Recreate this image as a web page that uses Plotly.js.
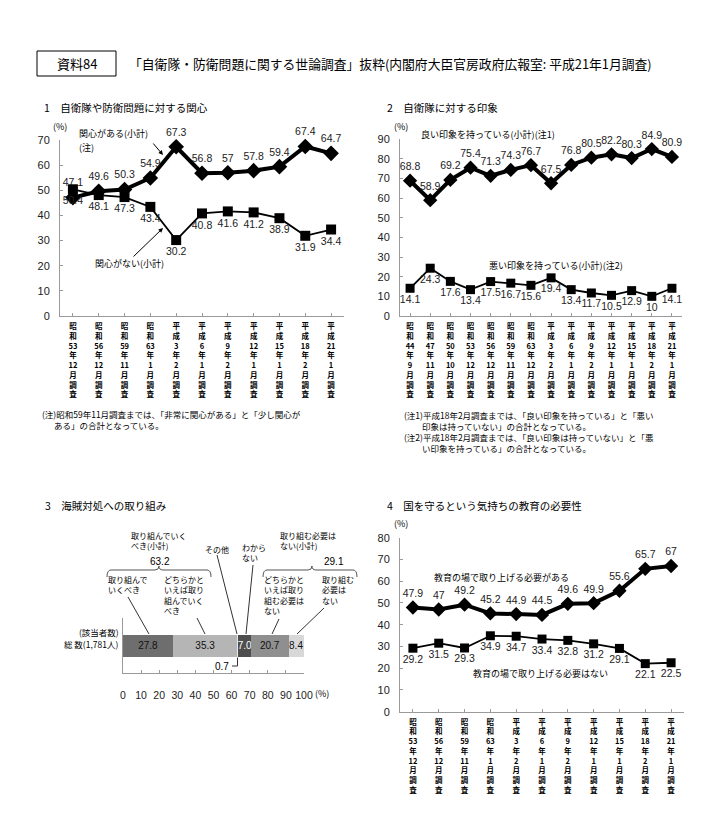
<!DOCTYPE html>
<html><head><meta charset="utf-8">
<script src="https://cdn.plot.ly/plotly-3.0.1.min.js"></script>
<style>html,body{margin:0;padding:0;background:#fff}</style>
</head><body><div id="chart" style="width:720px;height:838px"></div>
<script>
// ---------- data ----------
const surveys1 = ['昭和53年12月調査','昭和56年12月調査','昭和59年11月調査','昭和63年1月調査','平成3年2月調査','平成6年1月調査','平成9年2月調査','平成12年1月調査','平成15年1月調査','平成18年2月調査','平成21年1月調査'];
const interestYes = [47.1,49.6,50.3,54.9,67.3,56.8,57,57.8,59.4,67.4,64.7];
const interestNo  = [50.4,48.1,47.3,43.4,30.2,40.8,41.6,41.2,38.9,31.9,34.4];

const surveys2 = ['昭和44年9月調査','昭和47年11月調査','昭和50年10月調査','昭和53年12月調査','昭和56年12月調査','昭和59年11月調査','昭和63年12月調査','平成3年2月調査','平成6年1月調査','平成9年2月調査','平成12年1月調査','平成15年1月調査','平成18年2月調査','平成21年1月調査'];
const goodImpression = [68.8,58.9,69.2,75.4,71.3,74.3,76.7,67.5,76.8,80.5,82.2,80.3,84.9,80.9];
const badImpression  = [14.1,24.3,17.6,13.4,17.5,16.7,15.6,19.4,13.4,11.7,10.5,12.9,10,14.1];

const piracyNames  = ['取り組んでいくべき','どちらかといえば取り組んでいくべき','その他','わからない','どちらかといえば取り組む必要はない','取り組む必要はない'];
const piracyValues = [27.8,35.3,0.7,7.0,20.7,8.4];
const piracyCategory = ['総 数(1,781人)'];
const piracySubtotals = ['63.2','29.1'];

const surveys4 = ['昭和53年12月調査','昭和56年12月調査','昭和59年11月調査','昭和63年1月調査','平成3年2月調査','平成6年1月調査','平成9年2月調査','平成12年1月調査','平成15年1月調査','平成18年2月調査','平成21年1月調査'];
const educationYes = [47.9,47,49.2,45.2,44.9,44.5,49.6,49.9,55.6,65.7,67];
const educationNo  = [29.2,31.5,29.3,34.9,34.7,33.4,32.8,31.2,29.1,22.1,22.5];

// ---------- helpers ----------
const W = 720, H = 838;
const px = x => x / W;
const py = y => 1 - y / H;
const JP = '"Noto Sans CJK JP", "Noto Sans", sans-serif';
const NUM = '"Liberation Sans", Arial, sans-serif';
const vert = s => s.match(/\d+|./g).join('<br>');
const AX = '#9a9a9a';

function lineTrace(xs, ys, xa, ya, thick, symbol, pos, msize) {
  return {
    x: xs.map(vert), y: ys, xaxis: xa, yaxis: ya, type: 'scatter',
    mode: 'lines+markers+text', cliponaxis: false,
    line: {color: '#000', width: thick ? 4 : 1.8},
    marker: {symbol: symbol, color: '#000', size: msize},
    text: ys.map(v => String(v)), textposition: pos,
    textfont: {family: NUM, size: 10.5, color: '#222'},
    hoverinfo: 'skip'
  };
}

const traces = [
  lineTrace(surveys1, interestYes, 'x', 'y', true, 'diamond', 'top center', 12),
  lineTrace(surveys1, interestNo, 'x', 'y', false, 'square', 'bottom center', 10),
  lineTrace(surveys2, goodImpression, 'x2', 'y2', true, 'diamond', 'top center', 11),
  lineTrace(surveys2, badImpression, 'x2', 'y2', false, 'square', 'bottom center', 9),
  lineTrace(surveys4, educationYes, 'x4', 'y4', true, 'diamond', 'top center', 11),
  lineTrace(surveys4, educationNo, 'x4', 'y4', false, 'square', 'bottom center', 9)
];

const barColors = ['#6e6e6e','#b5b5b5','#e8e8e8','#4e4e4e','#8f8f8f','#d8d8d8'];
const barTextColors = ['#111','#111','#111','#fff','#111','#111'];
piracyValues.forEach((v, i) => {
  traces.push({
    type: 'bar', orientation: 'h', name: piracyNames[i],
    x: [v], y: piracyCategory, xaxis: 'x3', yaxis: 'y3',
    marker: {color: barColors[i], line: {width: 0}},
    texttemplate: i === 2 ? '' : '%{x:.1f}', textposition: i === 2 ? 'none' : 'inside',
    insidetextanchor: 'middle', textangle: 0, constraintext: 'none',
    insidetextfont: {family: NUM, size: 10, color: barTextColors[i]},
    hoverinfo: 'skip'
  });
});

function catX(domain, n) {
  return {domain: domain, type: 'category', range: [-0.5, n - 0.5], showline: true, linecolor: AX, linewidth: 1,
    ticks: 'inside', ticklen: 3, tickcolor: AX, tickangle: 0, showgrid: false, zeroline: false,
    tickfont: {family: JP, size: 7.5, color: '#000', weight: 'bold'}, ticklabelstandoff: 3, fixedrange: true};
}
function valY(domain, max) {
  return {domain: domain, range: [0, max], dtick: 10, showline: true, linecolor: AX, linewidth: 1,
    ticks: 'inside', ticklen: 3, tickcolor: AX, showgrid: false, zeroline: false,
    tickfont: {family: NUM, size: 11, color: '#222'}, ticklabelstandoff: 7, fixedrange: true};
}

const ann = [];
function t(x, y, text, opt) {
  ann.push(Object.assign({x: px(x), y: py(y), xref: 'paper', yref: 'paper', text: text, showarrow: false,
    xanchor: 'left', yanchor: 'middle', font: {family: JP, size: 9, color: '#000'}}, opt || {}));
}
// multi-line block: y0 is the centre of the first line
function block(x, y0, arr, size) {
  const s = size || 8;
  ann.push({x: px(x), y: py(y0 - 0.65 * 1.3 * s - 1), xref: 'paper', yref: 'paper', text: arr.join('<br>'),
    showarrow: false, xanchor: 'left', yanchor: 'top', align: 'left', borderpad: 0,
    font: {family: JP, size: s, color: '#000'}});
}
function arrow(x, y, ax, ay) {
  ann.push({x: px(x), y: py(y), xref: 'paper', yref: 'paper', text: '', showarrow: true, ax: ax, ay: ay,
    arrowhead: 2, arrowsize: 0.9, arrowwidth: 1, arrowcolor: '#000'});
}
const shapes = [];
function seg(x0, y0, x1, y1, color) {
  shapes.push({type: 'line', xref: 'paper', yref: 'paper', x0: px(x0), y0: py(y0), x1: px(x1), y1: py(y1),
    line: {color: color || '#333', width: 1}});
}
function brace(xl, xr, xm, y) {
  const p = (x, yy) => px(x).toFixed(5) + ',' + py(yy).toFixed(5);
  const path = 'M' + p(xl, y + 7) + ' Q' + p(xl, y) + ' ' + p(xl + 4, y) + ' L' + p(xm - 4, y) +
    ' Q' + p(xm, y) + ' ' + p(xm, y - 4) + ' Q' + p(xm, y) + ' ' + p(xm + 4, y) + ' L' + p(xr - 4, y) +
    ' Q' + p(xr, y) + ' ' + p(xr, y + 7);
  shapes.push({type: 'path', xref: 'paper', yref: 'paper', path: path, line: {color: '#555', width: 1}});
}

// header
shapes.push({type: 'rect', xref: 'paper', yref: 'paper', x0: px(37), x1: px(116), y0: py(76), y1: py(51), line: {color: '#000', width: 1}});
t(76.5, 63.5, '資料84', {xanchor: 'center', font: {family: JP, size: 13, color: '#000'}});
t(127, 63.5, '「自衛隊・防衛問題に関する世論調査」抜粋(内閣府大臣官房政府広報室: 平成21年1月調査)', {font: {family: JP, size: 12.8, color: '#000'}});

// panel titles
const ptFont = {family: JP, size: 10.5, color: '#000'};
t(42, 107, '1　自衛隊や防衛問題に対する関心', {font: ptFont});
t(385, 107, '2　自衛隊に対する印象', {font: ptFont});
t(43, 505, '3　海賊対処への取り組み', {font: ptFont});
t(385, 505, '4　国を守るという気持ちの教育の必要性', {font: ptFont});

// panel 1
t(60, 127, '(%)', {xanchor: 'center'});
t(77, 133, '関心がある(小計)');
t(77, 147, '(注)');
arrow(163, 155, -11, -13);
t(93, 263, '関心がない(小計)');
arrow(163, 228, -31, 30);
const noteFont = {family: JP, size: 8.5, color: '#000'};
t(40, 414, '(注)昭和59年11月調査までは、「非常に関心がある」と「少し関心が', {font: noteFont});
t(52, 425, 'ある」の合計となっている。', {font: noteFont});

// panel 2
t(401, 127, '(%)', {xanchor: 'center'});
t(488, 135, '良い印象を持っている(小計)(注1)', {xanchor: 'center'});
t(556, 265, '悪い印象を持っている(小計)(注2)', {xanchor: 'center'});
t(402, 415, '(注1)平成18年2月調査までは、「良い印象を持っている」と「悪い', {font: noteFont});
t(420, 426, '印象は持っていない」の合計となっている。', {font: noteFont});
t(402, 437, '(注2)平成18年2月調査までは、「良い印象は持っていない」と「悪', {font: noteFont});
t(420, 448, 'い印象を持っている」の合計となっている。', {font: noteFont});

// panel 3
block(130, 537, ['取り組んでいく', 'べき(小計)']);
t(160, 561, piracySubtotals[0], {xanchor: 'center', font: {family: NUM, size: 10, color: '#000'}});
brace(107, 211, 159, 570);
block(279, 537, ['取り組む必要は', 'ない(小計)']);
t(334, 561, piracySubtotals[1], {xanchor: 'center', font: {family: NUM, size: 10, color: '#000'}});
brace(263, 357, 312, 570);
t(203, 549, 'その他', {font: {family: JP, size: 8, color: '#000'}});
seg(217, 555, 237, 634);
block(241, 549, ['わから', 'ない']);
seg(253, 565, 246, 634);
block(107, 581, ['取り組んで', 'いくべき']);
seg(128, 597, 149, 634);
block(163, 581, ['どちらかと', 'いえば取り', '組んでいく', 'べき']);
seg(197, 618, 205, 634);
block(263, 581, ['どちらかと', 'いえば取り', '組む必要は', 'ない']);
seg(279, 619, 272, 634);
block(321, 581, ['取り組む', '必要は', 'ない']);
seg(324, 608, 297, 634);
t(121, 632, '(該当者数)', {xanchor: 'right', font: {family: JP, size: 8.5, color: '#000'}});
t(231, 666, piracyValues[2].toFixed(1), {xanchor: 'right', font: {family: NUM, size: 10, color: '#000'}});
shapes.push({type: 'path', xref: 'paper', yref: 'paper',
  path: 'M' + px(232) + ',' + py(666) + ' L' + px(237.5) + ',' + py(666) + ' L' + px(237.5) + ',' + py(657.5),
  line: {color: '#333', width: 1}});
t(322, 693, '(%)', {xanchor: 'center'});

// panel 4
t(401, 523, '(%)', {xanchor: 'center'});
t(501, 577.5, '教育の場で取り上げる必要がある', {xanchor: 'center'});
t(540, 673, '教育の場で取り上げる必要はない', {xanchor: 'center'});

const layout = {
  width: W, height: H, margin: {l: 0, r: 0, t: 0, b: 0},
  paper_bgcolor: '#fff', plot_bgcolor: 'rgba(0,0,0,0)', showlegend: false,
  barmode: 'stack', bargap: 0.6,
  uniformtext: {mode: 'show', minsize: 10},
  xaxis: catX([px(60), px(344)], 11), yaxis: Object.assign(valY([py(316), py(140)], 70), {anchor: 'x'}),
  xaxis2: Object.assign(catX([px(400), px(682)], 14), {anchor: 'y2'}), yaxis2: Object.assign(valY([py(316), py(139)], 90), {anchor: 'x2'}),
  xaxis3: {domain: [px(123), px(304)], range: [0, 100], dtick: 10, anchor: 'y3', showline: true, linecolor: AX,
    ticks: 'inside', ticklen: 3, tickcolor: AX, showgrid: false, zeroline: false,
    tickfont: {family: NUM, size: 10.5, color: '#222'}, ticklabelstandoff: 12, fixedrange: true},
  yaxis3: {domain: [py(673), py(618)], type: 'category', anchor: 'x3', showline: true, linecolor: AX,
    ticks: '', showgrid: false, zeroline: false, tickfont: {family: JP, size: 8.5, color: '#000'}, ticklabelstandoff: 2, fixedrange: true},
  xaxis4: Object.assign(catX([px(400), px(684)], 11), {anchor: 'y4'}), yaxis4: Object.assign(valY([py(711.7), py(537.7)], 80), {anchor: 'x4'}),
  annotations: ann, shapes: shapes
};

Plotly.newPlot('chart', traces, layout, {displayModeBar: false, staticPlot: true});
</script></body></html>
